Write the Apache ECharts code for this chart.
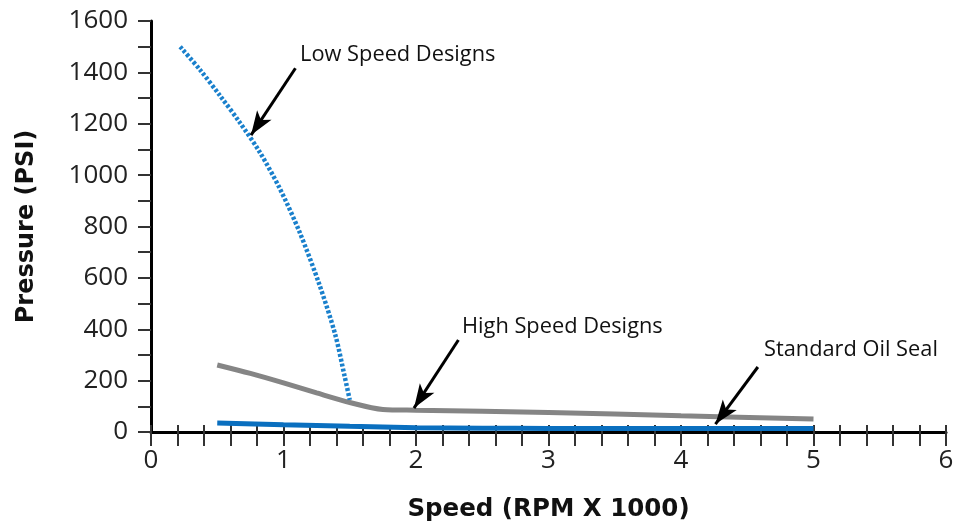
<!DOCTYPE html>
<html>
<head>
<meta charset="utf-8">
<script src="https://cdn.jsdelivr.net/npm/echarts@6/dist/echarts.min.js"></script>
<style>
html, body { margin: 0; padding: 0; background: #fff; }
#chart { width: 958px; height: 521px; }
</style>
</head>
<body>
<div id="chart"></div>
<script>
//低速设计曲线 [转速, 压力]
var lowSpeed = [[0.22, 1500], [0.37, 1410], [0.52, 1310], [0.67, 1205], [0.82, 1090], [0.97, 950], [1.12, 780], [1.27, 575], [1.39, 380], [1.46, 220], [1.50, 125]];
//高速设计曲线
var highSpeed = [[0.5, 261], [0.75, 228], [1.0, 191], [1.25, 152], [1.5, 115], [1.75, 88], [2.0, 85], [3.0, 76], [4.0, 63], [5.0, 51]];
//标准油封曲线
var standardSeal = [[0.5, 35], [1.0, 28], [1.5, 22], [2.0, 17], [2.5, 15], [3.0, 14], [4.0, 14], [5.0, 14]];

//注释文字
var noteTexts = ['Low Speed Designs', 'High Speed Designs', 'Standard Oil Seal'];
//注释文字锚点(数据坐标)
var noteAt = [[1.125, 1467], [2.347, 409], [4.626, 319]];
//箭头 起点/终点(数据坐标)
var arrowFrom = [[1.09, 1416], [2.32, 358], [4.58, 253]];
var arrowTo = [[0.755, 1156], [1.985, 93], [4.26, 31]];

var xTicks = [0, 1, 2, 3, 4, 5, 6];
var yTicks = [0, 200, 400, 600, 800, 1000, 1200, 1400, 1600];

var tickFont = '"Open Sans", sans-serif';
var titleFont = '"DejaVu Sans", sans-serif';

var arrowLines = [];
for (var i = 0; i < arrowFrom.length; i++) {
	arrowLines.push([{ coord: arrowFrom[i] }, { coord: arrowTo[i] }]);
}
var notePoints = [];
for (var j = 0; j < noteTexts.length; j++) {
	notePoints.push({ coord: noteAt[j], name: noteTexts[j] });
}

var chart = echarts.init(document.getElementById('chart'));
chart.setOption({
	animation: false,
	grid: {
		left: 151,
		right: 12,
		top: 21,
		bottom: 89,
		outerBoundsMode: 'none'
	},
	xAxis: [{
		type: 'value',
		position: 'bottom',
		min: xTicks[0],
		max: xTicks[xTicks.length - 1],
		interval: 1,
		name: 'Speed (RPM X 1000)',
		nameLocation: 'middle',
		nameGap: 65,
		nameTextStyle: {
			fontFamily: titleFont,
			fontWeight: 'bold',
			fontSize: 24.5,
			color: '#111'
		},
		axisLine: { lineStyle: { color: '#000', width: 3 } },
		axisTick: { length: 14, lineStyle: { color: '#333', width: 2 } },
		minorTick: { show: true, splitNumber: 5, length: 14, lineStyle: { color: '#333', width: 2 } },
		splitLine: { show: false },
		axisLabel: {
			margin: 16,
			fontFamily: tickFont,
			fontSize: 26,
			color: '#222'
		}
	}, {
		//刻度线向上突出部分
		type: 'value',
		position: 'bottom',
		min: xTicks[0],
		max: xTicks[xTicks.length - 1],
		interval: 1,
		axisLine: { show: false },
		axisTick: { inside: true, length: 7, lineStyle: { color: '#333', width: 2 } },
		minorTick: { show: true, splitNumber: 5, length: 7, lineStyle: { color: '#333', width: 2 } },
		splitLine: { show: false },
		axisLabel: { show: false }
	}],
	yAxis: {
		type: 'value',
		min: yTicks[0],
		max: yTicks[yTicks.length - 1],
		interval: 200,
		name: 'Pressure (PSI)',
		nameLocation: 'middle',
		nameGap: 112,
		nameTextStyle: {
			fontFamily: titleFont,
			fontWeight: 'bold',
			fontSize: 24,
			color: '#111'
		},
		axisLine: { show: true, lineStyle: { color: '#000', width: 3 } },
		axisTick: { show: true, length: 13, lineStyle: { color: '#333', width: 2 } },
		minorTick: { show: true, splitNumber: 2, length: 13, lineStyle: { color: '#333', width: 2 } },
		splitLine: { show: false },
		axisLabel: {
			margin: 23,
			fontFamily: tickFont,
			fontSize: 26,
			color: '#222',
			formatter: function(v) {
				return String(v);
			}
		}
	},
	series: [{
		name: 'Standard Oil Seal',
		type: 'line',
		data: standardSeal,
		smooth: 0.3,
		showSymbol: false,
		lineStyle: { color: '#0a6fbf', width: 5 },
		z: 3
	}, {
		name: 'High Speed Designs',
		type: 'line',
		data: highSpeed,
		smooth: 0.3,
		showSymbol: false,
		lineStyle: { color: '#858585', width: 5 },
		z: 2
	}, {
		name: 'Low Speed Designs',
		type: 'line',
		data: lowSpeed,
		smooth: 0.3,
		showSymbol: false,
		lineStyle: { color: '#1a80cc', width: 4.5, type: [3, 2] },
		z: 4,
		markLine: {
			silent: true,
			symbol: ['none', 'arrow'],
			symbolSize: [13, 24],
			label: { show: false },
			lineStyle: { color: '#000', width: 3, type: 'solid' },
			emphasis: { disabled: true },
			data: arrowLines
		},
		markPoint: {
			silent: true,
			symbol: 'circle',
			symbolSize: 0,
			label: {
				show: true,
				position: 'right',
				distance: 0,
				formatter: '{b}',
				fontFamily: tickFont,
				fontSize: 21.8,
				color: '#111'
			},
			data: notePoints
		}
	}]
});
</script>
</body>
</html>
